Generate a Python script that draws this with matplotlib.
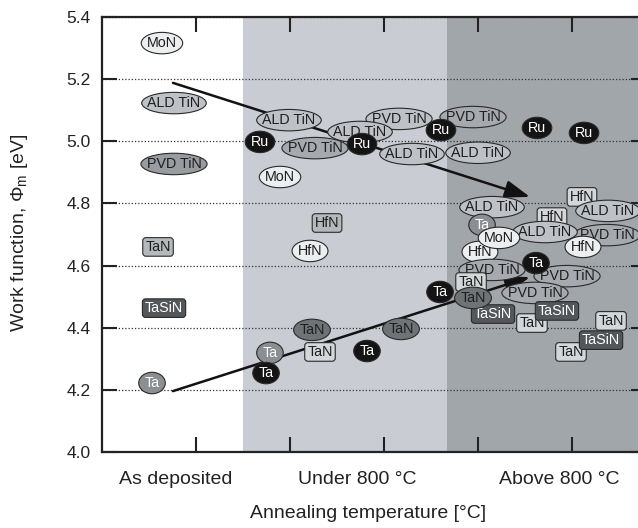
import matplotlib
matplotlib.use("Agg")
import matplotlib.pyplot as plt
from matplotlib.path import Path
from matplotlib.patches import BoxStyle
from matplotlib.transforms import Affine2D

plt.rcParams['font.family'] = ['Liberation Sans', 'DejaVu Sans']
plt.rcParams['mathtext.fontset'] = 'custom'
plt.rcParams['mathtext.rm'] = 'Liberation Sans'
plt.rcParams['mathtext.it'] = 'Liberation Sans:italic'

# ---- data -------------------------------------------------------------
categories = ["As deposited", "Under 800 °C", "Above 800 °C"]
category_x = [0.787, 2.713, 4.862]
region_edges = [1.5, 3.67]
wf_ticks = [4.0, 4.2, 4.4, 4.6, 4.8, 5.0, 5.2, 5.4]

asdep_metal = ["MoN", "ALD TiN", "PVD TiN", "TaN", "TaSiN", "Ta"]
asdep_x = [0.638, 0.766, 0.766, 0.596, 0.660, 0.532]
asdep_wf = [5.316, 5.123, 4.927, 4.660, 4.463, 4.222]

low_metal = ["PVD TiN", "ALD TiN", "PVD TiN", "ALD TiN", "Ru", "Ru", "ALD TiN",
             "MoN", "HfN", "HfN", "TaN", "TaN", "Ta", "TaN", "Ta", "Ta"]
low_x = [2.266, 1.989, 3.160, 2.745, 1.681, 2.766, 3.298,
         1.894, 2.394, 2.213, 2.234, 3.181, 1.787, 2.319, 2.819, 1.745]
low_wf = [4.978, 5.068, 5.072, 5.030, 4.998, 4.991, 4.959,
          4.885, 4.737, 4.647, 4.393, 4.396, 4.319, 4.322, 4.325, 4.254]

high_metal = ["PVD TiN", "Ru", "ALD TiN", "Ru", "Ru", "HfN", "HfN", "ALD TiN",
              "ALD TiN", "PVD TiN", "ALD TiN", "Ta", "HfN", "MoN", "HfN",
              "PVD TiN", "PVD TiN", "Ta", "PVD TiN", "TaN", "Ta", "TaSiN",
              "TaN", "TaN", "TaSiN", "TaN", "TaN", "TaSiN"]
high_x = [3.947, 3.606, 4.000, 4.628, 5.128, 5.106, 4.787, 4.149,
          5.383, 5.372, 4.713, 4.043, 4.021, 4.223, 5.117,
          4.149, 4.947, 4.617, 4.606, 3.926, 3.596, 4.160,
          3.947, 4.574, 4.840, 5.415, 4.989, 5.309]
high_wf = [5.078, 5.036, 4.963, 5.043, 5.027, 4.821, 4.756, 4.788,
           4.776, 4.698, 4.708, 4.731, 4.644, 4.689, 4.660,
           4.586, 4.566, 4.608, 4.512, 4.547, 4.515, 4.444,
           4.496, 4.415, 4.454, 4.422, 4.322, 4.360]

# trend arrows (start, end) in data units
trend_high = [(0.755, 5.188), (4.553, 4.821)]
trend_low = [(0.755, 4.196), (4.553, 4.563)]

# ---- label appearance ---------------------------------------------------
asdep_tone = ["white", "light", "dim", "tag_mid", "tag_dark", "grey"]
low_tone = ["mid", "light", "light", "light", "black", "black", "light",
            "white", "tag_mid", "white", "slate", "slate", "grey", "tag_light",
            "black", "black"]
high_tone = ["mid", "black", "light", "black", "black", "tag_light", "tag_light",
             "light", "light", "mid", "light", "grey", "white", "white", "white",
             "mid", "mid", "black", "mid", "tag_light", "black", "tag_dark",
             "slate", "tag_light", "tag_dark", "tag_light", "tag_light", "tag_dark"]


def oval(x0, y0, width, height, mutation_size):
    a = width / 2 + 0.40 * mutation_size
    b = height / 2 + 0.26 * mutation_size
    return (Affine2D().scale(a, b)
            .translate(x0 + width / 2, y0 + height / 2)
            .transform_path(Path.unit_circle()))


_round = BoxStyle.Round(pad=0, rounding_size=0.22)


def tag(x0, y0, width, height, mutation_size):
    px = 0.18 * mutation_size
    py = 0.16 * mutation_size
    return _round(x0 - px, y0 - py, width + 2 * px, height + 2 * py, mutation_size)


TONES = {
    "black": (oval, "#141414", "white"),
    "grey": (oval, "#8b8e92", "white"),
    "slate": (oval, "#6f7376", "#1e1e1e"),
    "dim": (oval, "#989b9f", "#1e1e1e"),
    "mid": (oval, "#a6aaae", "#1e1e1e"),
    "light": (oval, "#bec1c6", "#1e1e1e"),
    "white": (oval, "#eceef0", "#1e1e1e"),
    "tag_light": (tag, "#d4d7d9", "#1e1e1e"),
    "tag_mid": (tag, "#b6b9bc", "#1e1e1e"),
    "tag_dark": (tag, "#54575a", "white"),
}

# ---- figure -------------------------------------------------------------
fig = plt.figure(figsize=(6.38, 5.28), dpi=100)
ax = fig.add_axes([102 / 638, 76 / 528, 544 / 638, 435 / 528])
ax.set_xlim(0, 544 / 94)
ax.set_ylim(4.0, 5.4)

ax.axvspan(region_edges[0], region_edges[1], color="#c9ccd3", lw=0, zorder=0)
ax.axvspan(region_edges[1], 10, color="#a1a6ab", lw=0, zorder=0)

ax.set_axisbelow(True)
ax.grid(axis="y", linestyle=(0, (1.0, 1.6)), color="#333333", lw=0.9)
ax.grid(axis="x", visible=False)

for sp in ax.spines.values():
    sp.set_linewidth(1.6)
    sp.set_color("#222222")

ax.set_yticks(wf_ticks, [f"{v:.1f}" for v in wf_ticks])
ax.set_xticks([1, 2, 3, 4, 5], [])
ax.set_xticks(category_x, categories, minor=True)
ax.tick_params(which="major", direction="in", length=10.5, width=1.5,
               top=True, right=True, color="#222222", labelsize=12.5,
               labelcolor="#222222", pad=8)
ax.tick_params(axis="x", which="minor", length=0, pad=14, labelsize=14,
               labelcolor="#222222")

# trend arrows
for (x0, y0), (x1, y1) in (trend_high, trend_low):
    ax.annotate("", xy=(x1, y1), xytext=(x0, y0),
                arrowprops=dict(arrowstyle="-|>,head_length=0.95,head_width=0.33",
                                lw=1.8, color="#121212", shrinkA=0, shrinkB=0,
                                mutation_scale=16),
                zorder=2.5)

metals = asdep_metal + low_metal + high_metal
xs = asdep_x + low_x + high_x
wfs = asdep_wf + low_wf + high_wf
tones = asdep_tone + low_tone + high_tone

for i, (m, x, y, t) in enumerate(zip(metals, xs, wfs, tones)):
    shape, fc, tc = TONES[t]
    ax.text(x, y, m, ha="center", va="center", fontsize=10.3, color=tc,
            zorder=3 + 0.01 * i,
            bbox=dict(boxstyle=shape, fc=fc, ec="#2a2a2a", lw=0.8))

fig.text(368 / 638, 14 / 528, "Annealing temperature [°C]", ha="center",
         va="center", fontsize=14, color="#222222")
fig.text(20 / 638, 295 / 528, "Work function, Φ$_\\mathrm{m}$ [eV]", ha="center",
         va="center", rotation=90, fontsize=14, color="#222222")

fig.savefig("out.png", dpi=100)
